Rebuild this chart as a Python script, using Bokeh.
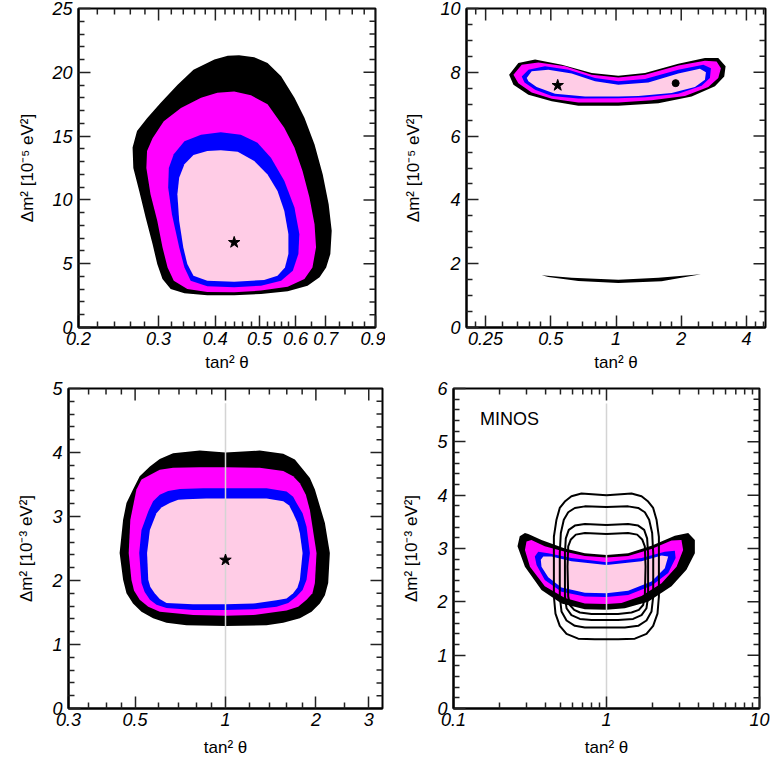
from math import pi
from bokeh.plotting import figure
from bokeh.layouts import column, row
from bokeh.models import Range1d, FixedTicker, CustomJSTickFormatter
from bokeh.core.properties import value
from bokeh.embed import file_html
from bokeh.resources import INLINE

FONT = "Liberation Sans"
BLACK, MAGENTA, BLUE, PINK = "#000000", "#ff00ff", "#0000ff", "#ffcce6"
X_LABEL = "tan² θ"

# ---------------- Panel 1 (solar, 10^-5 eV^2) ----------------
P1_X_MAJOR = [0.2, 0.3, 0.4, 0.5, 0.6, 0.7, 0.9]
P1_X_MINOR = [0.22, 0.24, 0.26, 0.28, 0.32, 0.34, 0.36, 0.38, 0.42, 0.44, 0.46, 0.48,
              0.52, 0.54, 0.56, 0.58, 0.65, 0.75, 0.8, 0.85]
P1_Y_MAJOR = [0, 5, 10, 15, 20, 25]
P1_Y_MINOR = [1, 2, 3, 4, 6, 7, 8, 9, 11, 12, 13, 14, 16, 17, 18, 19, 21, 22, 23, 24]
P1_BLACK_X = [0.451, 0.487, 0.521, 0.558, 0.597, 0.628, 0.661, 0.689, 0.710, 0.721, 0.716, 0.701, 0.678,
              0.638, 0.577, 0.504, 0.44, 0.384, 0.342, 0.319, 0.306, 0.298, 0.291, 0.281, 0.272, 0.264,
              0.263, 0.269, 0.283, 0.303, 0.33, 0.358, 0.398, 0.426]
P1_BLACK_Y = [21.33, 21.17, 20.73, 19.69, 18.0, 16.43, 14.35, 12.0, 9.66, 7.58, 5.76, 4.71, 3.93,
              3.28, 2.84, 2.63, 2.53, 2.53, 2.68, 3.02, 3.8, 4.97, 6.54, 8.62, 10.7, 12.5,
              14.1, 15.4, 16.4, 17.6, 19.0, 20.2, 21.0, 21.3]
P1_MAG_X = [0.44, 0.479, 0.521, 0.567, 0.597, 0.622, 0.644, 0.661, 0.666, 0.654, 0.628, 0.577, 0.504,
            0.44, 0.384, 0.347, 0.324, 0.314, 0.306, 0.298, 0.288, 0.282, 0.283, 0.291, 0.308, 0.336,
            0.372, 0.404]
P1_MAG_Y = [18.5, 18.2, 17.5, 15.65, 14.1, 12.27, 10.2, 8.1, 6.28, 4.71, 3.8, 3.2, 2.89,
            2.76, 2.79, 3.02, 3.67, 4.71, 6.28, 8.36, 10.44, 12.5, 13.83, 14.84, 16.17, 17.2,
            18.0, 18.4]
P1_BLUE_X = [0.411, 0.455, 0.495, 0.53, 0.567, 0.597, 0.612, 0.609, 0.592, 0.558, 0.504, 0.44, 0.384,
             0.353, 0.342, 0.333, 0.321, 0.315, 0.316, 0.324, 0.342, 0.372]
P1_BLUE_Y = [15.3, 15.1, 14.48, 13.3, 11.5, 9.4, 7.32, 5.76, 4.45, 3.67, 3.28, 3.15, 3.23,
             3.67, 4.71, 6.28, 8.88, 10.96, 12.5, 13.57, 14.6, 15.1]
P1_PINK_X = [0.411, 0.448, 0.487, 0.521, 0.548, 0.567, 0.579, 0.579, 0.569, 0.548, 0.512, 0.44, 0.384,
             0.358, 0.347, 0.34, 0.333, 0.33, 0.333, 0.342, 0.358, 0.384]
P1_PINK_Y = [13.9, 13.78, 13.05, 12.0, 10.7, 9.14, 7.32, 5.76, 4.71, 4.06, 3.72, 3.59, 3.67,
             4.06, 4.97, 6.28, 8.36, 10.44, 11.74, 12.79, 13.52, 13.83]
P1_STAR_X = [0.44]
P1_STAR_Y = [6.67]

# ---------------- Panel 2 (solar + KamLAND, 10^-5 eV^2) ----------------
P2_X_MAJOR = [0.25, 0.5, 1, 2, 4]
P2_X_MINOR = [0.225, 0.3, 0.35, 0.4, 0.45, 0.6, 0.7, 0.8, 0.9, 1.2, 1.4, 1.6, 1.8,
              2.4, 2.8, 3.2, 3.6, 4.4, 4.8]
P2_Y_MAJOR = [0, 2, 4, 6, 8, 10]
P2_Y_MINOR = [0.5, 1, 1.5, 2.5, 3, 3.5, 4.5, 5, 5.5, 6.5, 7, 7.5, 8.5, 9, 9.5]
P2_BLACK_X = [0.321, 0.354, 0.423, 0.562, 0.772, 1.025, 1.361, 1.939, 2.574, 2.966, 3.206, 3.16, 2.863,
              2.234, 1.568, 1.025, 0.67, 0.505, 0.394, 0.336]
P2_BLACK_Y = [7.92, 8.29, 8.4, 8.24, 7.98, 7.89, 7.98, 8.27, 8.45, 8.45, 8.19, 7.87, 7.56,
              7.24, 7.03, 6.95, 6.95, 7.09, 7.3, 7.61]
P2_MAG_X = [0.336, 0.367, 0.438, 0.582, 0.772, 1.025, 1.361, 1.939, 2.574, 2.913, 3.05, 2.966, 2.667,
            2.081, 1.461, 1.025, 0.67, 0.505, 0.408, 0.354]
P2_MAG_Y = [7.92, 8.24, 8.31, 8.19, 7.92, 7.84, 7.92, 8.21, 8.36, 8.34, 8.13, 7.82, 7.54,
            7.26, 7.12, 7.05, 7.05, 7.17, 7.37, 7.66]
P2_BLUE_X = [0.367, 0.394, 0.47, 0.603, 0.8, 1.025, 1.361, 1.939, 2.529, 2.743, 2.714, 2.484, 1.939,
             1.361, 1.025, 0.67, 0.505, 0.423, 0.378]
P2_BLUE_Y = [7.87, 8.08, 8.19, 8.08, 7.82, 7.72, 7.79, 8.08, 8.24, 8.13, 7.82, 7.58, 7.33,
             7.22, 7.19, 7.18, 7.26, 7.45, 7.68]
P2_PINK_X = [0.387, 0.408, 0.487, 0.624, 0.8, 1.025, 1.41, 1.939, 2.44, 2.601, 2.574, 2.314, 1.806,
             1.268, 1.025, 0.72, 0.523, 0.43, 0.394]
P2_PINK_Y = [7.82, 8.03, 8.08, 7.96, 7.72, 7.61, 7.68, 7.96, 8.11, 8.0, 7.77, 7.54, 7.35,
             7.26, 7.24, 7.24, 7.33, 7.54, 7.72]
P2_LOW_X = [0.454, 0.624, 1.025, 1.568, 2.467, 1.624, 1.025, 0.67, 0.487]
P2_LOW_Y = [1.635, 1.56, 1.5, 1.56, 1.667, 1.447, 1.394, 1.457, 1.583]
P2_STAR_X = [0.538]
P2_STAR_Y = [7.59]
P2_DOT_X = [1.885]
P2_DOT_Y = [7.66]

# ---------------- Panel 3 (atmospheric, 10^-3 eV^2) ----------------
P3_X_MAJOR = [0.3, 0.5, 1, 2, 3]
P3_X_MINOR = [0.35, 0.4, 0.45, 0.6, 0.7, 0.8, 0.9, 1.2, 1.4, 1.6, 1.8, 2.5]
P3_Y_MAJOR = [0, 1, 2, 3, 4, 5]
P3_Y_MINOR = [0.2, 0.4, 0.6, 0.8, 1.2, 1.4, 1.6, 1.8, 2.2, 2.4, 2.6, 2.8, 3.2, 3.4, 3.6, 3.8,
              4.2, 4.4, 4.6, 4.8]
P3_BLACK_X = [1.0, 1.3, 1.557, 1.702, 1.815, 1.91, 1.985, 2.143, 2.226, 2.198, 2.143, 2.062, 1.935,
              1.769, 1.557, 1.37, 1.0, 0.741, 0.636, 0.574, 0.525, 0.492, 0.468, 0.456, 0.444, 0.456,
              0.468, 0.492, 0.518, 0.56, 0.604, 0.669, 0.821]
P3_BLACK_Y = [4.0, 4.03, 3.98, 3.89, 3.73, 3.6, 3.42, 2.9, 2.43, 1.96, 1.77, 1.64, 1.51,
              1.41, 1.34, 1.3, 1.29, 1.3, 1.34, 1.41, 1.51, 1.64, 1.8, 2.01, 2.43, 2.95,
              3.21, 3.42, 3.63, 3.78, 3.9, 3.99, 4.03]
P3_MAG_X = [1.0, 1.3, 1.557, 1.68, 1.769, 1.852, 1.91, 2.01, 1.985, 1.948, 1.862, 1.746, 1.597, 1.236,
            1.0, 0.78, 0.604, 0.553, 0.518, 0.496, 0.486, 0.476, 0.482, 0.505, 0.525, 0.56, 0.604,
            0.669, 0.821]
P3_MAG_Y = [3.77, 3.76, 3.71, 3.63, 3.52, 3.34, 3.1, 2.43, 1.96, 1.8, 1.7, 1.59, 1.53, 1.46,
            1.45, 1.46, 1.51, 1.59, 1.7, 1.84, 2.01, 2.43, 2.95, 3.42, 3.58, 3.65, 3.73,
            3.76, 3.77]
P3_BLUE_X = [1.0, 1.37, 1.597, 1.68, 1.724, 1.806, 1.862, 1.91, 1.862, 1.806, 1.724, 1.618, 1.479,
             1.236, 1.0, 0.78, 0.636, 0.589, 0.56, 0.538, 0.525, 0.516, 0.525, 0.553, 0.574, 0.604,
             0.644, 0.705, 0.843]
P3_BLUE_Y = [3.44, 3.44, 3.39, 3.31, 3.21, 3.05, 2.84, 2.43, 2.01, 1.85, 1.75, 1.65, 1.59,
             1.55, 1.54, 1.54, 1.57, 1.62, 1.7, 1.82, 1.96, 2.43, 2.79, 3.08, 3.24, 3.34,
             3.4, 3.43, 3.44]
P3_PINK_X = [1.0, 1.37, 1.557, 1.63, 1.68, 1.733, 1.769, 1.806, 1.769, 1.737, 1.68, 1.597, 1.479,
             1.236, 1.0, 0.78, 0.636, 0.604, 0.581, 0.562, 0.553, 0.548, 0.56, 0.589, 0.612, 0.652,
             0.696, 0.741, 0.864]
P3_PINK_Y = [3.28, 3.28, 3.24, 3.17, 3.05, 2.91, 2.74, 2.43, 2.01, 1.89, 1.8, 1.72, 1.69,
             1.64, 1.63, 1.63, 1.65, 1.71, 1.8, 1.9, 2.01, 2.43, 2.79, 3.05, 3.14, 3.21,
             3.26, 3.27, 3.28]
P3_STAR_X = [1.0]
P3_STAR_Y = [2.32]
P3_GUIDE_X = [1.0]
P3_GUIDE_TOP = [4.77]

# ---------------- Panel 4 (MINOS + K2K, 10^-3 eV^2) ----------------
P4_X_MAJOR = [0.1, 1, 10]
P4_X_MINOR = [0.2, 0.3, 0.4, 0.5, 0.6, 0.7, 0.8, 0.9, 2, 3, 4, 5, 6, 7, 8, 9]
P4_Y_MAJOR = [0, 1, 2, 3, 4, 5, 6]
P4_Y_MINOR = [0.2, 0.4, 0.6, 0.8, 1.2, 1.4, 1.6, 1.8, 2.2, 2.4, 2.6, 2.8, 3.2, 3.4, 3.6, 3.8,
              4.2, 4.4, 4.6, 4.8, 5.2, 5.4, 5.6, 5.8]
P4_BLACK_X = [0.308, 0.376, 0.535, 0.722, 1.0, 1.385, 1.968, 2.797, 3.42, 3.78, 3.78, 3.33, 2.66, 1.87,
              1.318, 1.0, 0.722, 0.508, 0.376, 0.293, 0.262, 0.271, 0.293]
P4_BLACK_Y = [3.27, 3.16, 3.0, 2.91, 2.88, 2.91, 3.05, 3.24, 3.29, 3.16, 2.91, 2.6, 2.29, 2.0,
              1.88, 1.85, 1.86, 1.97, 2.22, 2.66, 3.04, 3.23, 3.29]
P4_MAG_X = [0.323, 0.395, 0.535, 0.722, 1.0, 1.385, 1.968, 2.66, 3.09, 3.17, 2.87, 2.29, 1.694, 1.253,
            1.0, 0.722, 0.535, 0.395, 0.316, 0.293, 0.3]
P4_MAG_Y = [3.16, 3.04, 2.94, 2.86, 2.83, 2.86, 2.99, 3.15, 3.16, 2.97, 2.66, 2.35, 2.11, 1.98,
            1.96, 1.97, 2.07, 2.29, 2.66, 2.97, 3.13]
P4_BLUE_X = [0.358, 0.416, 0.59, 1.0, 1.694, 2.405, 2.797, 2.83, 2.53, 1.968, 1.385, 1.0, 0.722, 0.508,
             0.395, 0.349, 0.34]
P4_BLUE_Y = [2.94, 2.91, 2.82, 2.74, 2.82, 2.94, 2.96, 2.82, 2.54, 2.3, 2.13, 2.09, 2.1, 2.19,
             2.41, 2.69, 2.85]
P4_PINK_X = [0.386, 0.437, 0.59, 1.0, 1.694, 2.29, 2.53, 2.405, 1.968, 1.385, 1.0, 0.722, 0.508, 0.416,
             0.376, 0.372]
P4_PINK_Y = [2.85, 2.85, 2.76, 2.69, 2.76, 2.87, 2.85, 2.63, 2.38, 2.21, 2.16, 2.17, 2.27, 2.46,
             2.66, 2.79]
MINOS_X = [
    [1.0, 1.457, 1.694, 1.872, 2.018, 2.123, 2.2, 2.2, 2.154, 2.018, 1.825, 1.532, 1.192, 1.0, 0.839,
     0.653, 0.548, 0.495, 0.464, 0.453, 0.453, 0.471, 0.495, 0.534, 0.59, 0.686],
    [1.0, 1.385, 1.611, 1.781, 1.9, 1.988, 2.02, 2.02, 1.969, 1.825, 1.611, 1.318, 1.0, 0.722,
     0.621, 0.548, 0.508, 0.495, 0.495, 0.503, 0.526, 0.562, 0.621, 0.722],
    [1.0, 1.385, 1.611, 1.763, 1.843, 1.87, 1.87, 1.825, 1.694, 1.493, 1.19, 1.0, 0.798, 0.67,
     0.59, 0.548, 0.535, 0.535, 0.542, 0.567, 0.621, 0.722],
    [1.0, 1.385, 1.587, 1.711, 1.78, 1.8, 1.78, 1.736, 1.627, 1.457, 1.19, 1.0, 0.798, 0.67,
     0.615, 0.576, 0.562, 0.556, 0.562, 0.585, 0.63, 0.722],
]
MINOS_Y = [
    [4.0, 4.03, 3.98, 3.88, 3.76, 3.54, 3.22, 2.1, 1.78, 1.55, 1.4, 1.31, 1.3, 1.3, 1.3,
     1.31, 1.4, 1.55, 1.78, 2.1, 3.22, 3.54, 3.76, 3.88, 3.98, 4.03],
    [3.78, 3.79, 3.76, 3.68, 3.54, 3.29, 2.91, 2.1, 1.82, 1.65, 1.55, 1.52, 1.52, 1.52,
     1.55, 1.65, 1.82, 2.1, 2.91, 3.29, 3.54, 3.68, 3.76, 3.79],
    [3.44, 3.46, 3.43, 3.35, 3.19, 2.91, 2.1, 1.88, 1.75, 1.68, 1.66, 1.66, 1.66, 1.68,
     1.75, 1.88, 2.1, 2.91, 3.19, 3.35, 3.43, 3.46],
    [3.27, 3.29, 3.26, 3.17, 3.04, 2.66, 2.1, 1.94, 1.85, 1.80, 1.77, 1.77, 1.77, 1.8,
     1.85, 1.94, 2.1, 2.66, 3.04, 3.17, 3.26, 3.29],
]
P4_GUIDE_X = [1.0]
P4_GUIDE_TOP = [5.72]
P4_TEXT_X = [0.149]
P4_TEXT_Y = [5.42]
P4_TEXT = ["MINOS"]

TICK_COLOR = "#222222"
MAJOR_LEN, MINOR_LEN = 12, 6


def style_axis(ax):
    ax.axis_line_width = 2
    ax.axis_line_color = "black"
    ax.major_tick_in = MAJOR_LEN
    ax.major_tick_out = 0
    ax.minor_tick_in = MINOR_LEN
    ax.minor_tick_out = 0
    ax.major_tick_line_width = 1.5
    ax.minor_tick_line_width = 1.5
    ax.major_tick_line_color = TICK_COLOR
    ax.minor_tick_line_color = TICK_COLOR
    ax.major_label_text_font = FONT
    ax.major_label_text_font_style = "italic"
    ax.major_label_text_font_size = "18px"
    ax.major_label_text_color = "black"
    ax.axis_label_text_font = FONT
    ax.axis_label_text_font_style = "normal"
    ax.axis_label_text_font_size = "17px"
    ax.axis_label_text_color = "black"


def make_panel(xr, yr, xmaj, xmin, ymaj, ymin, ylabel, w, h, bl, br, bt, bb, ylab_standoff, xlab_standoff):
    p = figure(width=w, height=h, x_axis_type="log", x_range=Range1d(*xr), y_range=Range1d(*yr),
               output_backend="svg", toolbar_location=None,
               min_border_left=bl, min_border_right=br, min_border_top=bt, min_border_bottom=bb)
    p.xgrid.visible = False
    p.ygrid.visible = False
    p.outline_line_color = "black"
    p.outline_line_width = 2
    p.background_fill_color = "white"
    p.border_fill_color = "white"
    bx = p.below[0]
    ly = p.left[0]
    bx.ticker = FixedTicker(ticks=xmaj, minor_ticks=xmin)
    bx.formatter = CustomJSTickFormatter(code="return String(tick);")
    bx.axis_label = X_LABEL
    bx.major_label_standoff = 4
    bx.axis_label_standoff = xlab_standoff
    ly.ticker = FixedTicker(ticks=ymaj, minor_ticks=ymin)
    ly.axis_label = ylabel
    ly.major_label_standoff = 6
    ly.axis_label_standoff = ylab_standoff
    style_axis(bx)
    style_axis(ly)
    # mirrored inward ticks on the top and right frame edges
    p.ray(x=xmaj, y=[yr[1]] * len(xmaj), length=MAJOR_LEN, angle=-pi / 2, length_units="screen",
          line_color=TICK_COLOR, line_width=1.5)
    p.ray(x=xmin, y=[yr[1]] * len(xmin), length=MINOR_LEN, angle=-pi / 2, length_units="screen",
          line_color=TICK_COLOR, line_width=1.5)
    p.ray(x=[xr[1]] * len(ymaj), y=ymaj, length=MAJOR_LEN, angle=pi, length_units="screen",
          line_color=TICK_COLOR, line_width=1.5)
    p.ray(x=[xr[1]] * len(ymin), y=ymin, length=MINOR_LEN, angle=pi, length_units="screen",
          line_color=TICK_COLOR, line_width=1.5)
    return p


def fill(p, xs, ys, color):
    p.patch(xs, ys, fill_color=color, line_color=None)


# Panel 1
p1 = make_panel((0.2, 0.9), (0, 25), P1_X_MAJOR, P1_X_MINOR, P1_Y_MAJOR, P1_Y_MINOR,
                "Δm² [10⁻⁵ eV²]", 385, 379, 78, 10, 7, 52, 12, 5)
fill(p1, P1_BLACK_X, P1_BLACK_Y, BLACK)
fill(p1, P1_MAG_X, P1_MAG_Y, MAGENTA)
fill(p1, P1_BLUE_X, P1_BLUE_Y, BLUE)
fill(p1, P1_PINK_X, P1_PINK_Y, PINK)
p1.scatter(P1_STAR_X, P1_STAR_Y, marker="star", size=12, color="black")

# Panel 2
p2 = make_panel((0.204, 4.9), (0, 10), P2_X_MAJOR, P2_X_MINOR, P2_Y_MAJOR, P2_Y_MINOR,
                "Δm² [10⁻⁵ eV²]", 385, 379, 81, 5, 8, 52, 14, 5)
fill(p2, P2_BLACK_X, P2_BLACK_Y, BLACK)
fill(p2, P2_MAG_X, P2_MAG_Y, MAGENTA)
fill(p2, P2_BLUE_X, P2_BLUE_Y, BLUE)
fill(p2, P2_PINK_X, P2_PINK_Y, PINK)
fill(p2, P2_LOW_X, P2_LOW_Y, BLACK)
p2.scatter(P2_STAR_X, P2_STAR_Y, marker="star", size=12, color="black")
p2.scatter(P2_DOT_X, P2_DOT_Y, marker="circle", size=7, color="black")

# Panel 3
p3 = make_panel((0.3, 1 / 0.3), (0, 5), P3_X_MAJOR, P3_X_MINOR, P3_Y_MAJOR, P3_Y_MINOR,
                "Δm² [10⁻³ eV²]", 385, 388, 68, 3, 9, 59, 13, 9)
fill(p3, P3_BLACK_X, P3_BLACK_Y, BLACK)
fill(p3, P3_MAG_X, P3_MAG_Y, MAGENTA)
fill(p3, P3_BLUE_X, P3_BLUE_Y, BLUE)
fill(p3, P3_PINK_X, P3_PINK_Y, PINK)
p3.segment(x0=P3_GUIDE_X, y0=[0], x1=P3_GUIDE_X, y1=P3_GUIDE_TOP, line_color="#d4d4d4", line_width=1.5)
p3.scatter(P3_STAR_X, P3_STAR_Y, marker="star", size=12, fill_color="black", line_color="black")

# Panel 4
p4 = make_panel((0.1, 10), (0, 6), P4_X_MAJOR, P4_X_MINOR, P4_Y_MAJOR, P4_Y_MINOR,
                "Δm² [10⁻³ eV²]", 385, 388, 68, 11, 9, 59, 13, 9)
fill(p4, P4_BLACK_X, P4_BLACK_Y, BLACK)
fill(p4, P4_MAG_X, P4_MAG_Y, MAGENTA)
fill(p4, P4_BLUE_X, P4_BLUE_Y, BLUE)
fill(p4, P4_PINK_X, P4_PINK_Y, PINK)
p4.segment(x0=P4_GUIDE_X, y0=[0], x1=P4_GUIDE_X, y1=P4_GUIDE_TOP, line_color="#d4d4d4", line_width=1.5)
p4.multi_line([xs + xs[:1] for xs in MINOS_X], [ys + ys[:1] for ys in MINOS_Y],
              line_color="black", line_width=2, line_join="round")
p4.text(x=P4_TEXT_X, y=P4_TEXT_Y, text=P4_TEXT, text_font=value(FONT), text_font_size="18px",
        text_baseline="middle", text_align="left", text_color="black")

layout = column(row(p1, p2), row(p3, p4))
open("out.html", "w").write(file_html(layout, INLINE))
